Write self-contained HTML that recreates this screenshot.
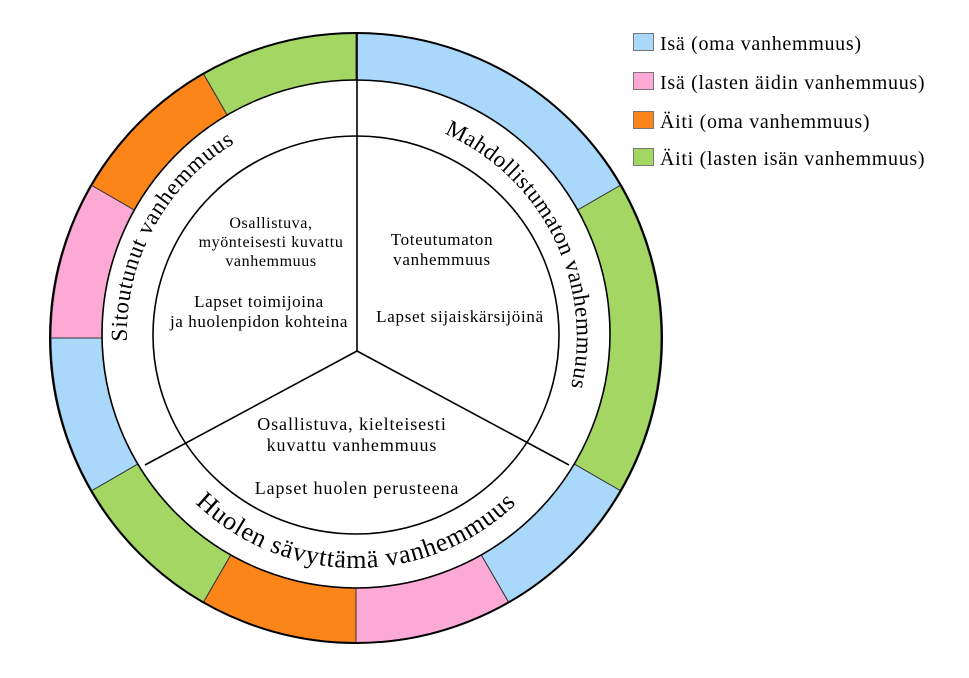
<!DOCTYPE html>
<html><head><meta charset="utf-8"><style>
html,body{margin:0;padding:0;background:#fff;}
svg{display:block;}
text{font-family:"Liberation Serif",serif;fill:#000;}
</style></head><body>
<svg width="969" height="678" viewBox="0 0 969 678" xmlns="http://www.w3.org/2000/svg">
<g stroke="#333" stroke-width="1">
<path d="M356,338 L356,33 A305,305 0 0 1 620.1,185.5 Z" fill="#aad8fb"/>
<path d="M356,338 L620.1,185.5 A305,305 0 0 1 620.1,490.5 Z" fill="#a3d663"/>
<path d="M356,338 L620.1,490.5 A305,305 0 0 1 508.5,602.1 Z" fill="#aad8fb"/>
<path d="M356,338 L508.5,602.1 A305,305 0 0 1 356,643 Z" fill="#fda9d6"/>
<path d="M356,338 L356,643 A305,305 0 0 1 203.5,602.1 Z" fill="#fb8519"/>
<path d="M356,338 L203.5,602.1 A305,305 0 0 1 91.9,490.5 Z" fill="#a3d663"/>
<path d="M356,338 L91.9,490.5 A305,305 0 0 1 51,338 Z" fill="#aad8fb"/>
<path d="M356,338 L51,338 A305,305 0 0 1 91.9,185.5 Z" fill="#fda9d6"/>
<path d="M356,338 L91.9,185.5 A305,305 0 0 1 203.5,73.9 Z" fill="#fb8519"/>
<path d="M356,338 L203.5,73.9 A305,305 0 0 1 356,33 Z" fill="#a3d663"/>
</g>
<ellipse cx="356" cy="338" rx="306" ry="305" fill="none" stroke="#000" stroke-width="2"/>
<circle cx="356" cy="334" r="254" fill="#fff" stroke="#000" stroke-width="1.6"/>
<ellipse cx="356" cy="335" rx="203" ry="199" fill="none" stroke="#000" stroke-width="1.6"/>
<g stroke="#000" stroke-width="1.6">
<line x1="357" y1="33" x2="357" y2="351"/>
<line x1="357" y1="351" x2="145" y2="465"/>
<line x1="357" y1="351" x2="569" y2="465"/>
</g>
<defs>
<path id="pLs" d="M243.3,530.2 A222,222 0 0 1 456.8,138.2"/>
<path id="pR" d="M258.7,136.5 A222,222 0 0 1 456.8,533.8"/>
<path id="pB" d="M124,336 A232,232 0 0 0 588,336"/>
</defs>
<text font-size="23" letter-spacing="0.6"><textPath href="#pLs" startOffset="50%" text-anchor="middle">Sitoutunut vanhemmuus</textPath></text>
<text font-size="23" letter-spacing="0.4"><textPath href="#pR" startOffset="50%" text-anchor="middle">Mahdollistumaton vanhemmuus</textPath></text>
<text font-size="26" letter-spacing="0.8"><textPath href="#pB" startOffset="50%" text-anchor="middle">Huolen sävyttämä vanhemmuus</textPath></text>
<g font-size="16" text-anchor="middle" letter-spacing="0.6">
<text x="271" y="228">Osallistuva,</text>
<text x="271" y="247">myönteisesti kuvattu</text>
<text x="271" y="266">vanhemmuus</text>
<text x="259" y="307" font-size="17">Lapset toimijoina</text>
<text x="259" y="327" font-size="17">ja huolenpidon kohteina</text>
</g>
<g font-size="17" text-anchor="middle" letter-spacing="0.7">
<text x="442" y="245">Toteutumaton</text>
<text x="442" y="265">vanhemmuus</text>
<text x="460" y="322">Lapset sijaiskärsijöinä</text>
</g>
<g font-size="18" text-anchor="middle" letter-spacing="0.9">
<text x="352" y="430">Osallistuva, kielteisesti</text>
<text x="352" y="451">kuvattu vanhemmuus</text>
<text x="357" y="494">Lapset huolen perusteena</text>
</g>
<g stroke="#777" stroke-width="1">
<rect x="633.5" y="33.5" width="20" height="17" fill="#aad8fb"/>
<rect x="633.5" y="72.5" width="20" height="17" fill="#fda9d6"/>
<rect x="633.5" y="111.5" width="20" height="17" fill="#fb8519"/>
<rect x="633.5" y="148.5" width="20" height="17" fill="#a3d663"/>
</g>
<g font-size="20" letter-spacing="0.7">
<text x="660" y="50">Isä (oma vanhemmuus)</text>
<text x="660" y="89">Isä (lasten äidin vanhemmuus)</text>
<text x="660" y="128">Äiti (oma vanhemmuus)</text>
<text x="660" y="165">Äiti (lasten isän vanhemmuus)</text>
</g>
</svg>
</body></html>
